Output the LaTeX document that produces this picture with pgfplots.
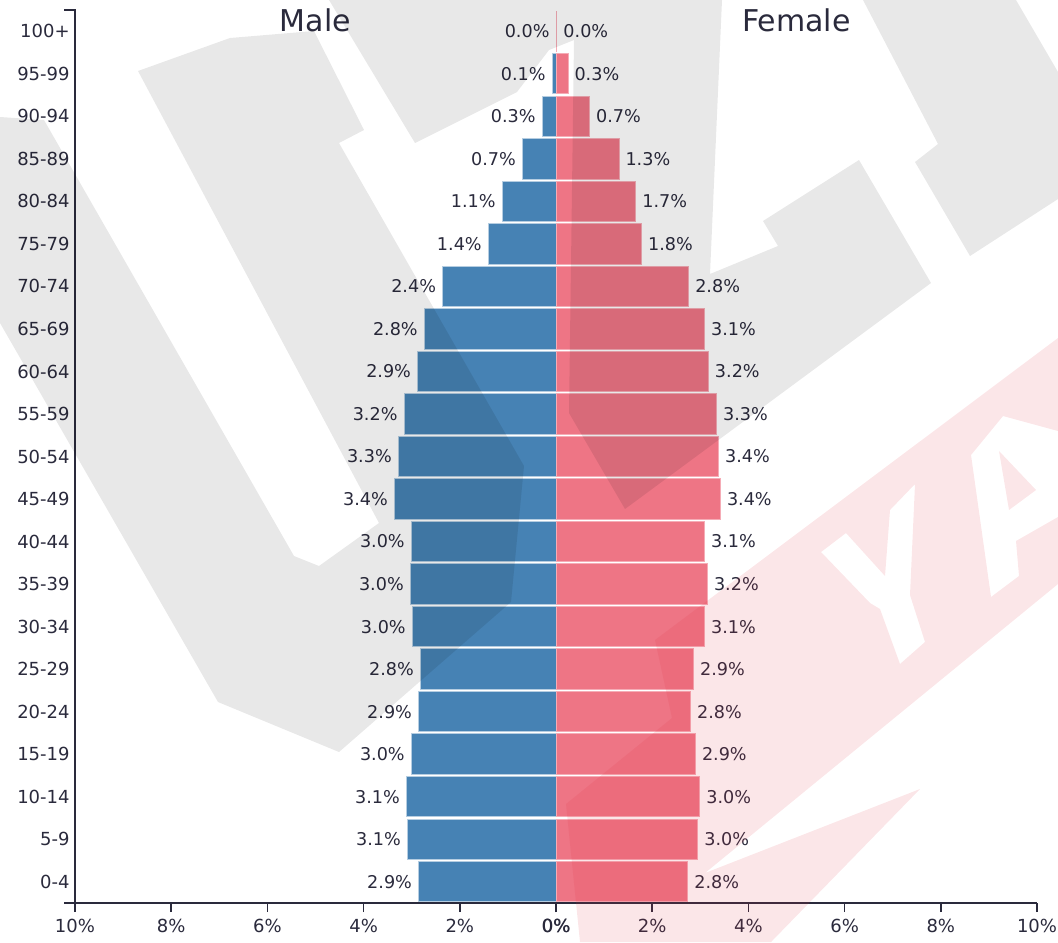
\documentclass[border=0pt]{standalone}
\usepackage{pgfplots}
\usepackage{pgfplotstable}
\pgfplotsset{compat=1.18}
\usepackage{fontspec}
\setmainfont{DejaVu Sans}

\definecolor{malec}{HTML}{4682B4}
\definecolor{femc}{HTML}{EE7585}
\definecolor{ink}{HTML}{2A2A3C}
\definecolor{wm}{HTML}{E02F3F}

% g = age group (0 = 0-4 ... 20 = 100+), v = bar length, l = printed label
\pgfplotstableread{
g v l
0 -2.86 2.9
1 -3.09 3.1
2 -3.11 3.1
3 -3.01 3.0
4 -2.86 2.9
5 -2.82 2.8
6 -2.99 3.0
7 -3.03 3.0
8 -3.01 3.0
9 -3.36 3.4
10 -3.28 3.3
11 -3.16 3.2
12 -2.88 2.9
13 -2.74 2.8
14 -2.36 2.4
15 -1.41 1.4
16 -1.12 1.1
17 -0.70 0.7
18 -0.29 0.3
19 -0.08 0.1
20 0 0.0
}\maletab

\pgfplotstableread{
g v l
0 2.74 2.8
1 2.95 3.0
2 2.99 3.0
3 2.90 2.9
4 2.80 2.8
5 2.86 2.9
6 3.09 3.1
7 3.15 3.2
8 3.09 3.1
9 3.42 3.4
10 3.38 3.4
11 3.34 3.3
12 3.17 3.2
13 3.09 3.1
14 2.76 2.8
15 1.78 1.8
16 1.66 1.7
17 1.31 1.3
18 0.70 0.7
19 0.25 0.3
20 0.02 0.0
}\femtab

\begin{document}
\begin{tikzpicture}
\path[use as bounding box] (0,0) rectangle (529pt,-471pt);
\begin{axis}[
  at={(37.5pt,-451.5pt)}, anchor=south west,
  scale only axis, width=481pt, height=446.5pt,
  xmin=-10, xmax=10, ymin=-0.5, ymax=20.5,
  xbar, bar shift=0pt, bar width=0.95,
  clip=false,
  axis x line*=bottom, axis y line*=left,
  axis line style={ink, line width=1pt},
  tick align=outside,
  major tick length=4.5pt,
  xtick={-10,-8,...,10},
  xticklabels={10\%,8\%,6\%,4\%,2\%,0\%,2\%,4\%,6\%,8\%,10\%},
  extra x ticks={0}, extra x tick labels={0\%},
  extra x tick style={xticklabel style={xshift=0.25pt}},
  x tick style={ink, line width=0.8pt},
  ytick={0,...,20},
  yticklabels={0-4,5-9,10-14,15-19,20-24,25-29,30-34,35-39,40-44,45-49,50-54,55-59,60-64,65-69,70-74,75-79,80-84,85-89,90-94,95-99,100+},
  y tick style={draw=none},
  tick label style={font=\fontsize{9}{10}\selectfont, text=ink},
  yticklabel style={inner sep=2.5pt, xshift=4.5pt},
  point meta=explicit,
  nodes near coords={\pgfmathprintnumber[fixed,fixed zerofill,precision=1,assume math mode=true]{\pgfplotspointmeta}\%},
  nodes near coords style={font=\fontsize{8.8}{10}\selectfont, text=ink, inner sep=3pt},
]
\addplot[fill=malec, draw=malec!40!white, line width=0.5pt,
  every node near coord/.append style={anchor=east}]
  table[x=v, y=g, meta=l] {\maletab};
\addplot[fill=femc, draw=femc!60!white, line width=0.5pt,
  every node near coord/.append style={anchor=west}]
  table[x=v, y=g, meta=l] {\femtab};
\node[font=\fontsize{15}{15}\selectfont, text=ink, anchor=north, inner sep=0pt, yshift=1pt] at (axis cs:-5,20.5) {Male};
\node[font=\fontsize{15}{15}\selectfont, text=ink, anchor=north, inner sep=0pt, yshift=1pt] at (axis cs:5,20.5) {Female};
\draw[ink, line width=1pt] (axis cs:-10,20.5) ++(-5.5pt,0pt) -- (axis cs:-10,20.5)
  -- (axis cs:-10,-0.5) -- ++(-5.5pt,0pt);
\end{axis}

% watermark, in pixels of the 1058x942 frame
\begin{scope}[x=0.5pt, y=-0.5pt]
\fill[black, fill opacity=0.09]
  (0,117) -- (44,120) -- (294,556) -- (319,566) -- (379,523) -- (138,71) -- (230,38)
  -- (314,31) -- (364,130) -- (339,143) -- (524,466) -- (511,602) -- (339,752)
  -- (218,702) -- (0,323) -- cycle;
\fill[black, fill opacity=0.09]
  (329,0) -- (722,0) -- (710,274) -- (778,246) -- (763,221) -- (859,160) -- (931,283)
  -- (625,509) -- (569,413) -- (574,40) -- (549,50) -- (517,92) -- (415,143) -- cycle;
\fill[black, fill opacity=0.09]
  (863,0) -- (1016,0) -- (1058,72) -- (1058,199) -- (970,256) -- (915,162) -- (938,144) -- cycle;
\fill[wm, fill opacity=0.12, even odd rule]
  (655,640) -- (1058,338) -- (1058,584) -- (705,873) -- (920,789) -- (771,942)
  -- (580,942) -- (566,804) -- (672,718) -- cycle
  (821,552) -- (846,533) -- (885,576) -- (890,510) -- (915,484) -- (910,595)
  -- (925,642) -- (900,664) -- (880,609) -- (870,603) -- cycle
  (971,455) -- (1003,416) -- (1058,431) -- (1058,517) -- (1016,541) -- (1019,576)
  -- (991,597) -- cycle
  (999,451) -- (1009,510) -- (1036,490) -- cycle;
\end{scope}
\end{tikzpicture}
\end{document}
